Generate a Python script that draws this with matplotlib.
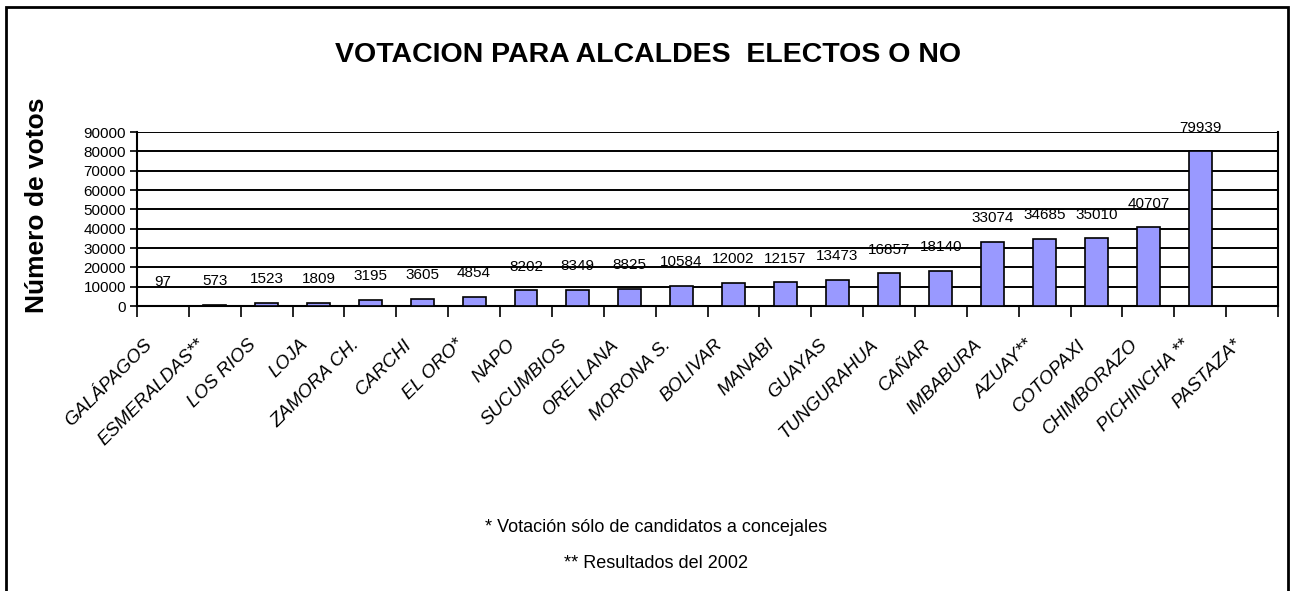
import matplotlib
matplotlib.use("Agg")
import matplotlib.pyplot as plt
from matplotlib.patches import Rectangle
from matplotlib.transforms import ScaledTranslation

provincias = [
    "GALÁPAGOS", "ESMERALDAS**", "LOS RIOS", "LOJA", "ZAMORA CH.", "CARCHI",
    "EL ORO*", "NAPO", "SUCUMBIOS", "ORELLANA", "MORONA S.", "BOLIVAR",
    "MANABI", "GUAYAS", "TUNGURAHUA", "CAÑAR", "IMBABURA", "AZUAY**",
    "COTOPAXI", "CHIMBORAZO", "PICHINCHA **", "PASTAZA*",
]
votos = [
    97, 573, 1523, 1809, 3195, 3605, 4854, 8202, 8349, 8825, 10584, 12002,
    12157, 13473, 16857, 18140, 33074, 34685, 35010, 40707, 79939, None,
]
y_ticks = list(range(0, 90001, 10000))

plt.rcParams["font.family"] = ["Liberation Sans", "DejaVu Sans"]

fig = plt.figure(figsize=(12.93, 5.91), dpi=100)
ax = fig.add_axes([137 / 1293, 1 - 306 / 591, (1278 - 137) / 1293, (306 - 132) / 591])

x = list(range(len(provincias)))
alturas = [v if v is not None else 0 for v in votos]
ax.bar(x, alturas, width=0.44, color="#9999FF", edgecolor="black",
       linewidth=1.2, zorder=3)

for i, v in enumerate(votos):
    if v is None:
        continue
    ax.annotate(str(v), (i, v), xytext=(0, 17), textcoords="offset points",
                ha="center", va="center", fontsize=11, zorder=4)

ax.set_xlim(-0.5, len(provincias) - 0.5)
ax.set_ylim(0, 90000)
ax.set_yticks(y_ticks)
ax.set_yticklabels([str(t) for t in y_ticks], fontsize=11)
ax.yaxis.grid(True, color="black", linewidth=1.4, zorder=0)
ax.set_axisbelow(True)

ax.set_xticks(x)
ax.set_xticklabels(provincias, rotation=45, ha="right", va="center",
                   rotation_mode="anchor", fontsize=13.5, style="italic")
ax.tick_params(axis="x", length=0, pad=26)
shift = ScaledTranslation(-0.13, 0, fig.dpi_scale_trans)
for lab in ax.get_xticklabels():
    lab.set_transform(lab.get_transform() + shift)
ax.set_xticks([i - 0.5 for i in range(len(provincias) + 1)], minor=True)
ax.tick_params(axis="x", which="minor", length=8, width=1.2, direction="out")
ax.tick_params(axis="y", length=5, width=1.2, pad=3)

for s in ax.spines.values():
    s.set_linewidth(1.5)
ax.spines["top"].set_visible(False)

fig.text(37 / 1293, 1 - 205 / 591, "Número de votos", rotation=90,
         ha="center", va="center", fontsize=19, fontweight="bold")
fig.text(648 / 1293, 1 - 55 / 591, "VOTACION PARA ALCALDES  ELECTOS O NO",
         ha="center", va="center", fontsize=20.5, fontweight="bold")
fig.text(656 / 1293, 1 - 527 / 591, "* Votación sólo de candidatos a concejales",
         ha="center", va="center", fontsize=13)
fig.text(656 / 1293, 1 - 563 / 591, "** Resultados del 2002",
         ha="center", va="center", fontsize=13)

fig.patches.append(Rectangle((6 / 1293, -0.05), (1288 - 6) / 1293, 1.05 - 7 / 591,
                             transform=fig.transFigure, fill=False,
                             edgecolor="black", linewidth=2))

fig.savefig("out.png", dpi=100)
